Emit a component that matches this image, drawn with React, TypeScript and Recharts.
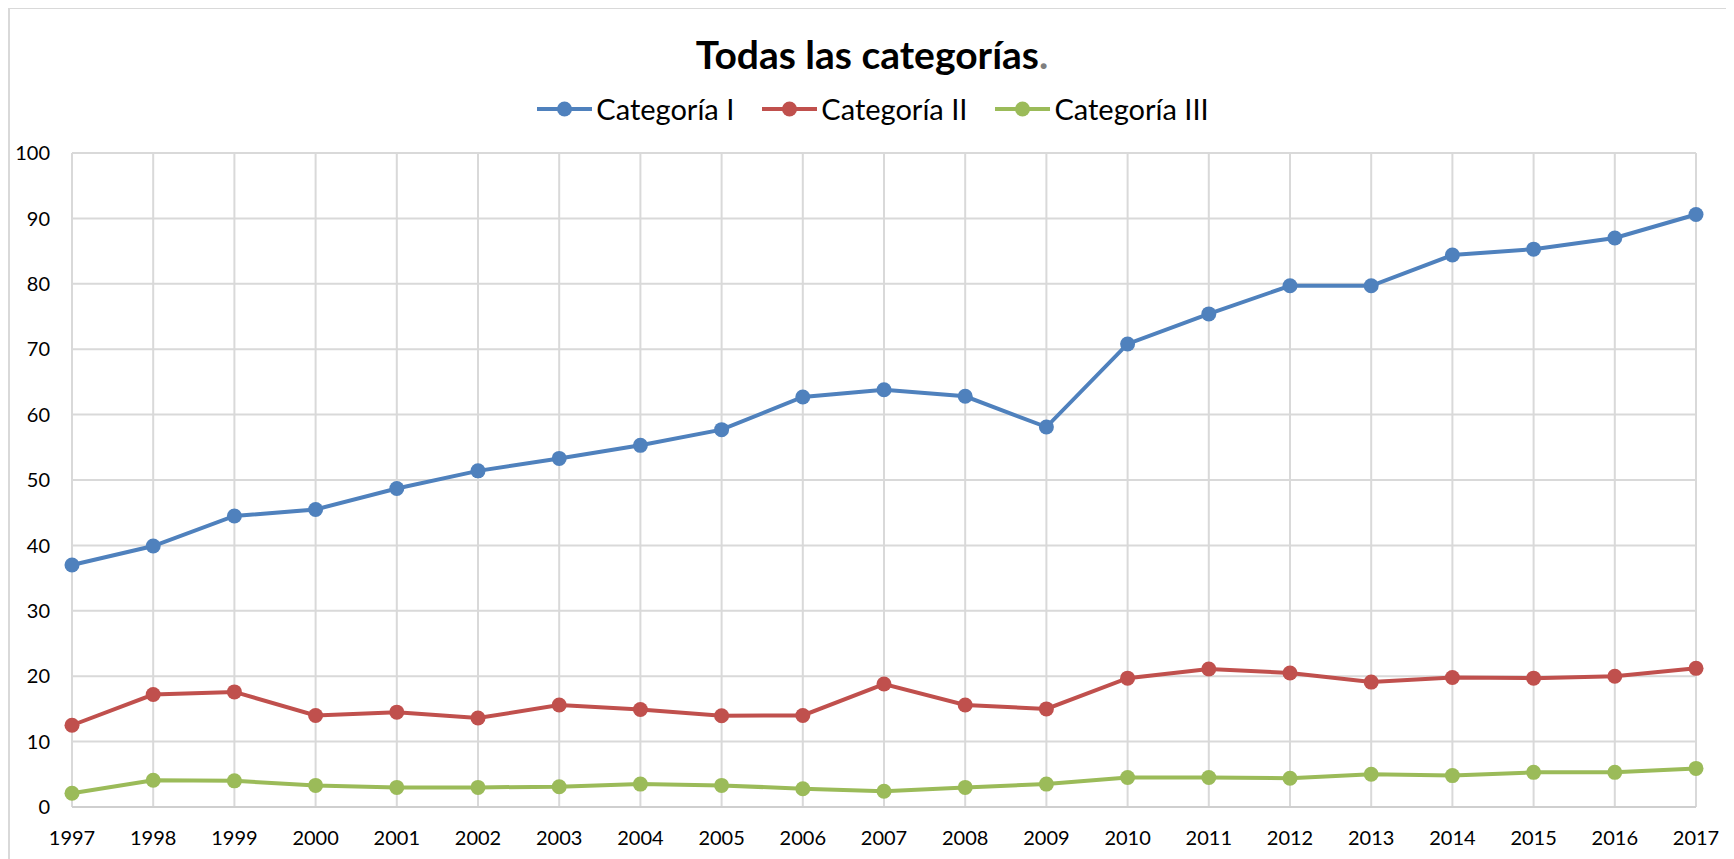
import React from "react";
import { LineChart, Line, XAxis, YAxis, CartesianGrid } from "recharts";

const years = ["1997","1998","1999","2000","2001","2002","2003","2004","2005","2006","2007","2008","2009","2010","2011","2012","2013","2014","2015","2016","2017"];
const categoriaI = [37.0, 39.9, 44.5, 45.5, 48.7, 51.4, 53.3, 55.3, 57.7, 62.7, 63.8, 62.8, 58.1, 70.8, 75.4, 79.7, 79.7, 84.4, 85.3, 87.0, 90.6];
const categoriaII = [12.5, 17.2, 17.6, 14.0, 14.5, 13.6, 15.6, 14.9, 13.95, 14.0, 18.8, 15.6, 15.0, 19.7, 21.1, 20.5, 19.1, 19.8, 19.7, 20.0, 21.2];
const categoriaIII = [2.1, 4.1, 4.0, 3.3, 3.0, 3.0, 3.1, 3.5, 3.3, 2.8, 2.4, 3.0, 3.5, 4.5, 4.5, 4.4, 5.0, 4.8, 5.3, 5.3, 5.9];
const yTicks = [0, 10, 20, 30, 40, 50, 60, 70, 80, 90, 100];
const seriesNames = ["Categoría I", "Categoría II", "Categoría III"];
const seriesColors = ["#4F81BD", "#C0504D", "#9BBB59"];
const seriesKeys = ["c1", "c2", "c3"];

const data = years.map((y, i) => ({
  year: y,
  c1: categoriaI[i],
  c2: categoriaII[i],
  c3: categoriaIII[i],
}));

const FONT = "Lato, 'Noto Sans', sans-serif";

export default function App() {
  return (
    <div
      style={{
        position: "relative",
        marginTop: -1,
        width: 1726,
        height: 852,
        boxSizing: "border-box",
        borderTop: "2px solid #d9d9d9",
        borderLeft: "2px solid #d9d9d9",
        overflow: "hidden",
        background: "#fff",
        fontFamily: FONT,
      }}
    >
      <div
        style={{
          position: "absolute",
          top: 22,
          left: 0,
          width: 1724,
          textAlign: "center",
          fontSize: 39,
          fontWeight: 700,
          lineHeight: "46px",
          color: "#000",
        }}
      >
        Todas las categorías<span style={{ color: "#7f7f7f" }}>.</span>
      </div>
      <div
        style={{
          position: "absolute",
          top: 82,
          left: 1,
          width: 1724,
          display: "flex",
          justifyContent: "center",
          alignItems: "center",
          fontSize: 29,
          lineHeight: "36px",
          color: "#000",
        }}
      >
        {seriesNames.map((n, i) => (
          <div key={n} style={{ display: "flex", alignItems: "center", marginLeft: i === 0 ? 0 : 28 }}>
            <svg width={55} height={20} style={{ display: "block" }}>
              <line x1={0} y1={10} x2={55} y2={10} stroke={seriesColors[i]} strokeWidth={4} />
              <circle cx={27.5} cy={10} r={7.5} fill={seriesColors[i]} />
            </svg>
            <span style={{ marginLeft: 4 }}>{n}</span>
          </div>
        ))}
      </div>
      <LineChart
        width={1724}
        height={850}
        data={data}
        margin={{ top: 144, right: 38, bottom: 12, left: 12 }}
      >
        <CartesianGrid stroke="#d9d9d9" strokeWidth={2} />
        <XAxis
          dataKey="year"
          interval={0}
          tickLine={false}
          tickSize={0}
          tickMargin={24}
          height={40}
          axisLine={{ stroke: "#cfcfcf", strokeWidth: 2 }}
          tick={{ fill: "#000", fontSize: 20, fontFamily: FONT }}
        />
        <YAxis
          domain={[0, 100]}
          ticks={yTicks}
          interval={0}
          width={50}
          tickLine={false}
          tickSize={0}
          tickMargin={22}
          axisLine={false}
          tick={{ fill: "#000", fontSize: 20, fontFamily: FONT }}
        />
        {seriesKeys.map((k, i) => (
          <Line
            key={k}
            dataKey={k}
            name={seriesNames[i]}
            stroke={seriesColors[i]}
            strokeWidth={4}
            dot={{ r: 7.5, fill: seriesColors[i], stroke: seriesColors[i], strokeWidth: 0 }}
            activeDot={false}
            isAnimationActive={false}
          />
        ))}
      </LineChart>
    </div>
  );
}
